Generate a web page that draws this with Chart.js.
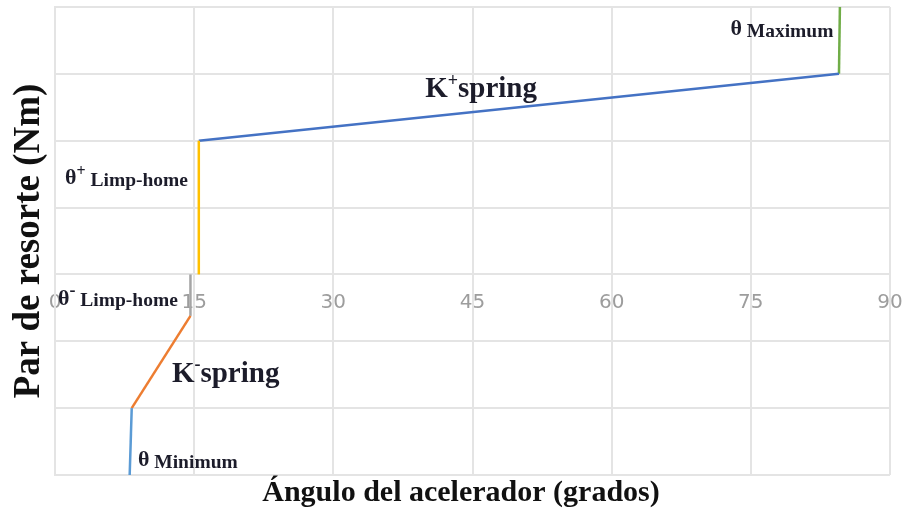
<!DOCTYPE html>
<html>
<head>
<meta charset="utf-8">
<script src="https://cdn.jsdelivr.net/npm/chart.js@4/dist/chart.umd.min.js"></script>
<style>
  html, body { margin: 0; padding: 0; background: #ffffff; }
  #wrap { width: 906px; height: 510px; position: relative; }
</style>
</head>
<body>
<div id="wrap"><canvas id="grafico"></canvas></div>
<script>
// Angle axis ticks (degrees)
const anguloTicks = [0, 15, 30, 45, 60, 75, 90];
// Torque axis range, one grid line per unit (no numeric labels)
const parRango = [-3, 4];

// Curve segments: throttle angle (deg) and spring torque
const anguloMinimo  = [8.05, 8.27];
const parMinimo     = [-3, -2];
const anguloKneg    = [8.27, 14.6];
const parKneg       = [-2, -0.62];
const anguloLimpNeg = [14.6, 14.6];
const parLimpNeg    = [-0.62, 0];
const anguloLimpPos = [15.5, 15.5];
const parLimpPos    = [0, 2];
const anguloKpos    = [15.5, 84.5];
const parKpos       = [2, 3];
const anguloMaximo  = [84.5, 84.6];
const parMaximo     = [3, 4];

const puntos = (xs, ys) => xs.map((x, i) => ({ x: x, y: ys[i] }));

const serie = (xs, ys, color) => ({
  data: puntos(xs, ys),
  showLine: true,
  borderColor: color,
  backgroundColor: color,
  borderWidth: 2.5,
  pointRadius: 0,
  tension: 0
});

// Text labels on the curve: anchor in data units, then pieces [text, size, baseline shift]
const etiquetas = [
  { x: 72.8, y: 3.575, partes: [['θ', 22, 0], [' Maximum', 19.5, 2]] },
  { x: 39.9, y: 2.66,  partes: [['K', 29, 0], ['+', 18, -11], ['spring', 29, 0]] },
  { x: 1.08, y: 1.35,  partes: [['θ', 22, 0], ['+', 16, -8], [' Limp-home', 19.5, 2]] },
  { x: 0.32, y: -0.45, partes: [['θ', 22, 0], ['-', 18, -9], [' Limp-home', 19.5, 1]] },
  { x: 12.6, y: -1.615, partes: [['K', 29, 0], ['-', 18, -12], ['spring', 29, 0]] },
  { x: 8.94, y: -2.86, partes: [['θ', 22, 0], [' Minimum', 19.5, 2]] }
];

const textoCurva = {
  id: 'textoCurva',
  afterDatasetsDraw(chart) {
    const ctx = chart.ctx;
    const sx = chart.scales.x, sy = chart.scales.y;
    ctx.save();
    ctx.fillStyle = '#1c1c2a';
    ctx.textBaseline = 'alphabetic';
    ctx.textAlign = 'left';
    etiquetas.forEach(e => {
      let px = sx.getPixelForValue(e.x);
      const py = sy.getPixelForValue(e.y);
      e.partes.forEach(([t, size, dy]) => {
        ctx.font = 'bold ' + size + 'px "Liberation Serif", "Times New Roman", serif';
        ctx.fillText(t, px, py + dy);
        px += ctx.measureText(t).width;
      });
    });
    ctx.restore();
  }
};

const gris = '#e4e4e4';

new Chart(document.getElementById('grafico'), {
  type: 'scatter',
  data: {
    datasets: [
      serie(anguloMinimo, parMinimo, '#5b9bd5'),
      serie(anguloKneg, parKneg, '#ed7d31'),
      serie(anguloLimpNeg, parLimpNeg, '#a5a5a5'),
      serie(anguloLimpPos, parLimpPos, '#ffc000'),
      serie(anguloKpos, parKpos, '#4472c4'),
      serie(anguloMaximo, parMaximo, '#70ad47')
    ]
  },
  options: {
    responsive: true,
    maintainAspectRatio: false,
    animation: false,
    layout: { padding: { top: 7, left: 16, right: 0, bottom: 0 } },
    plugins: {
      legend: { display: false },
      tooltip: { enabled: false },
      title: {
        display: true,
        position: 'bottom',
        text: 'Ángulo del acelerador (grados)',
        color: '#111111',
        font: { family: '"Liberation Serif", "Times New Roman", serif', size: 30, weight: 'bold', lineHeight: 1.1 },
        padding: { top: 2, bottom: 0 }
      }
    },
    scales: {
      x: {
        type: 'linear',
        position: { y: 0 },
        min: anguloTicks[0],
        max: anguloTicks[anguloTicks.length - 1],
        afterBuildTicks: s => { s.ticks = anguloTicks.map(v => ({ value: v })); },
        // labels sit inside the plot, so they should not push the plot edges inward
        afterFit: s => { s.paddingLeft = 0; s.paddingRight = 0; },
        grid: { color: gris, lineWidth: 2, drawTicks: false },
        border: { color: gris, width: 2 },
        ticks: {
          color: '#9d9d9d',
          font: { family: '"DejaVu Sans", sans-serif', size: 20 },
          padding: 16,
          maxRotation: 0,
          autoSkip: false
        }
      },
      y: {
        type: 'linear',
        position: 'left',
        min: parRango[0],
        max: parRango[1],
        afterBuildTicks: s => {
          const t = [];
          for (let v = parRango[0]; v <= parRango[1]; v++) t.push({ value: v });
          s.ticks = t;
        },
        afterFit: s => { s.width = 39; },
        grid: { color: gris, lineWidth: 2, drawTicks: false },
        border: { color: gris, width: 2 },
        ticks: { display: false },
        title: {
          display: true,
          text: 'Par de resorte (Nm)',
          color: '#111111',
          font: { family: '"Liberation Serif", "Times New Roman", serif', size: 37, weight: 'bold', lineHeight: '26px' },
          padding: 0
        }
      },
      margen: {
        type: 'linear',
        position: 'right',
        display: true,
        afterFit: s => { s.width = 16; },
        grid: { display: false },
        border: { display: false },
        ticks: { display: false }
      }
    }
  },
  plugins: [textoCurva]
});
</script>
</body>
</html>
